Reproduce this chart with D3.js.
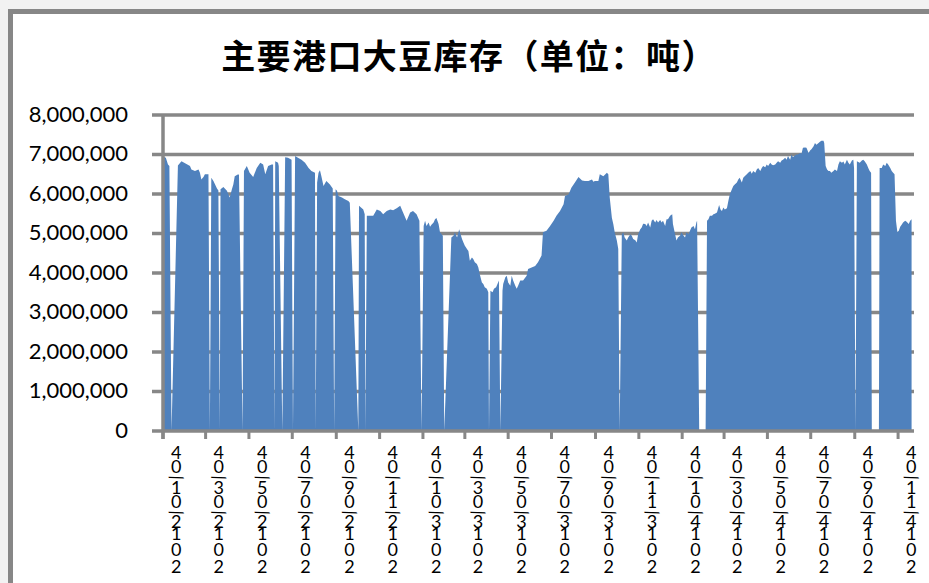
<!DOCTYPE html>
<html>
<head>
<meta charset="utf-8">
<script src="https://cdn.jsdelivr.net/npm/d3@7"></script>
<style>
  body { margin: 0; background: #f2f2f2; }
  svg { display: block; }
</style>
</head>
<body>
<script>
// port soybean stock, tons; dates are month-day inside each year
var dates2012 = ["01-04","01-08","01-11","01-13","01-16","01-25","01-30","02-06","02-11","02-13",
  "02-18","02-23","02-25","02-27","03-01","03-03","03-08","03-10","03-12","03-15",
  "03-20","03-22","03-24","03-25","03-29","04-03","04-07","04-10","04-12","04-14",
  "04-19","04-20","04-25","04-27","05-01","05-05","05-10","05-15","05-20","05-24",
  "05-27","05-31","06-05","06-07","06-09","06-10","06-14","06-15","06-20","06-24",
  "06-28","07-03","07-05","07-08","07-12","07-17","07-22","07-27","07-31","08-05",
  "08-06","08-08","08-10","08-12","08-14","08-17","08-21","08-26","08-30","09-01",
  "09-03","09-05","09-07","09-12","09-16","09-21","09-23","10-05","10-06","10-12",
  "10-14","10-15","10-17","10-26","10-31","11-05","11-09","11-14","11-19","11-23",
  "11-28","12-03","12-07","12-12","12-17","12-21","12-26","12-30"];
var stock2012 = [6950000,6920000,6750000,6710000,0,6720000,6830000,6760000,6710000,6620000,
  6580000,6620000,6540000,6370000,6430000,6500000,6500000,0,6410000,6330000,
  6140000,6090000,0,6120000,6180000,6080000,5910000,6120000,6240000,6450000,
  6500000,6480000,0,6580000,6710000,6540000,6430000,6660000,6790000,6750000,
  6500000,6710000,6750000,6750000,0,6830000,6790000,6710000,0,6930000,
  6920000,6870000,0,6960000,6920000,6870000,6790000,6660000,6580000,6540000,
  0,6290000,6540000,6600000,6450000,6200000,6330000,6240000,6140000,0,
  6120000,6080000,5950000,5910000,5870000,5820000,5780000,0,5700000,5610000,
  5490000,0,5450000,5450000,5610000,5570000,5490000,5570000,5610000,5590000,
  5640000,5700000,5530000,5320000,5530000,5570000,5490000,5320000];

var dates2013 = ["01-02","01-05","01-07","01-09","01-12","01-14","01-16","01-19","01-21","01-23",
  "01-26","01-28","02-01","02-03","02-13","02-16","02-18","02-21","02-23","02-24",
  "02-26","02-28","03-02","03-04","03-07","03-09","03-11","03-14","03-16","03-18",
  "03-21","03-23","03-25","03-28","03-30","04-01","04-04","04-06","04-07","04-09",
  "04-12","04-14","04-17","04-21","04-23","04-26","04-27","04-30","05-02","05-04",
  "05-07","05-09","05-11","05-14","05-16","05-18","05-21","05-25","05-30","06-01",
  "06-06","06-11","06-15","06-20","06-22","06-27","07-02","07-07","07-11","07-16",
  "07-21","07-23","07-28","08-01","08-06","08-11","08-16","08-20","08-25","08-30",
  "09-01","09-03","09-08","09-10","09-15","09-20","09-22","09-24","09-27","09-29",
  "10-01","10-04","10-06","10-08","10-11","10-13","10-15","10-18","10-20","10-23",
  "10-25","10-27","10-30","11-01","11-03","11-06","11-08","11-10","11-13","11-15",
  "11-17","11-20","11-22","11-24","11-27","11-29","12-01","12-04","12-06","12-08",
  "12-11","12-13","12-15","12-18","12-21","12-22","12-25","12-27","12-29"];
var stock2013 = [0,5190000,5320000,5190000,5280000,5170000,5220000,5280000,5360000,5390000,
  5240000,5030000,4940000,0,4900000,4940000,5030000,4900000,5030000,5110000,
  4980000,4860000,4770000,4690000,4610000,4560000,4310000,4390000,4350000,4270000,
  4230000,4140000,3970000,3760000,3720000,3640000,3600000,3510000,0,3550000,
  3510000,3600000,3640000,3810000,0,3550000,3720000,3890000,3930000,3760000,
  3680000,3930000,3810000,3680000,3600000,3680000,3810000,3810000,3930000,4100000,
  4140000,4180000,4270000,4440000,5030000,5070000,5190000,5320000,5450000,5570000,
  5740000,5950000,5990000,6160000,6290000,6430000,6340000,6330000,6330000,6370000,
  6310000,6330000,6330000,6500000,6450000,6540000,6500000,5910000,5400000,5240000,
  5030000,4820000,4610000,0,4980000,5030000,4900000,4820000,4900000,4980000,
  4940000,4860000,4830000,4770000,4980000,5110000,5150000,5250000,5240000,5190000,
  5280000,5150000,5320000,5360000,5280000,5340000,5280000,5340000,5280000,5320000,
  5190000,5360000,5360000,5450000,5490000,5240000,4980000,4820000,4900000];

var dates2014 = ["01-01","01-03","01-06","01-08","01-10","01-13","01-15","01-17","01-20","01-22",
  "01-24","01-25","01-28","02-06","02-08","02-10","02-12","02-15","02-17","02-19",
  "02-22","02-24","02-25","02-27","03-01","03-03","03-05","03-08","03-10","03-12",
  "03-15","03-17","03-19","03-22","03-24","03-26","03-29","03-31","04-02","04-05",
  "04-07","04-10","04-12","04-14","04-17","04-19","04-21","04-24","04-26","04-28",
  "05-01","05-03","05-05","05-08","05-10","05-12","05-15","05-17","05-19","05-22",
  "05-24","05-26","05-29","05-31","06-02","06-05","06-07","06-09","06-12","06-14",
  "06-16","06-19","06-21","06-23","06-26","06-28","07-01","07-03","07-05","07-08",
  "07-10","07-12","07-15","07-17","07-19","07-22","07-23","07-24","07-25","07-27",
  "07-29","07-31","08-02","08-05","08-07","08-10","08-12","08-14","08-17","08-19",
  "08-21","08-24","08-26","08-28","08-31","09-02","09-03","09-05","09-07","09-11",
  "09-14","09-16","09-18","09-21","09-23","09-25","09-27","09-28","10-08","10-09",
  "10-12","10-14","10-17","10-19","10-21","10-24","10-26","10-28","10-30","10-31",
  "11-01","11-03","11-05","11-07","11-09","11-11","11-14","11-16","11-19","11-21",
  "11-23"];
var stock2014 = [4940000,5030000,4940000,4900000,5030000,4980000,5070000,5150000,5190000,5110000,
  5280000,5320000,0,0,5320000,5360000,5450000,5450000,5490000,5500000,
  5530000,5660000,5720000,5610000,5570000,5660000,5610000,5640000,5820000,5990000,
  6120000,6200000,6240000,6290000,6370000,6410000,6290000,6410000,6450000,6500000,
  6540000,6580000,6510000,6580000,6540000,6620000,6660000,6580000,6660000,6710000,
  6680000,6750000,6710000,6790000,6750000,6730000,6750000,6790000,6830000,6790000,
  6850000,6870000,6920000,6870000,6960000,6870000,7000000,6930000,6980000,7000000,
  7000000,7040000,7020000,7170000,7180000,7170000,7040000,7100000,7130000,7210000,
  7290000,7250000,7290000,7320000,7350000,7350000,7290000,7000000,6710000,6620000,
  6580000,6580000,6540000,6580000,6620000,6580000,6750000,6830000,6790000,6820000,
  6750000,6870000,6790000,6750000,6850000,6870000,6660000,0,6830000,6790000,
  6850000,6870000,6830000,6750000,6660000,6580000,6540000,0,0,6660000,
  6660000,6750000,6710000,6790000,6750000,6660000,6580000,6540000,6500000,5910000,
  5320000,5030000,5070000,5170000,5220000,5280000,5320000,5300000,5240000,5320000,
  5360000];

var tickLabels = ["2012/01/04","2012/03/04","2012/05/04","2012/07/04","2012/09/04","2012/11/04",
  "2013/01/04","2013/03/04","2013/05/04","2013/07/04","2013/09/04","2013/11/04",
  "2014/01/04","2014/03/04","2014/05/04","2014/07/04","2014/09/04","2014/11/04"];
var yTicks = [0,1000000,2000000,3000000,4000000,5000000,6000000,7000000,8000000];
var xDomain = ["2012/01/04","2014/11/25"];
var title = "主要港口大豆库存（单位：吨）";

var margin = {top: 115, right: 16, bottom: 152, left: 163},
    width = 929 - margin.left - margin.right,
    height = 583 - margin.top - margin.bottom;

var parseDay = d3.utcParse("%Y-%m-%d"),
    parseTick = d3.utcParse("%Y/%m/%d");

var data = [];
[[2012, dates2012, stock2012], [2013, dates2013, stock2013], [2014, dates2014, stock2014]]
  .forEach(function(s) {
    s[1].forEach(function(md, i) {
      data.push({date: parseDay(s[0] + "-" + md), value: s[2][i]});
    });
  });

var svg0 = d3.select("body").append("svg")
    .attr("width", 929)
    .attr("height", 583);

// chart frame, runs off the right and bottom edge
svg0.append("rect")
    .attr("x", 10.5).attr("y", 11.5)
    .attr("width", 960).attr("height", 620)
    .attr("fill", "#fff")
    .attr("stroke", "#878787")
    .attr("stroke-width", 5);

svg0.append("text")
    .attr("x", 469)
    .attr("y", 69)
    .attr("text-anchor", "middle")
    .attr("font-family", "'Noto Sans CJK SC', sans-serif")
    .attr("font-weight", "bold")
    .attr("font-size", "34px")
    .attr("letter-spacing", "1.4px")
    .attr("fill", "#000")
    .text(title);

var svg = svg0.append("g")
    .attr("transform", "translate(" + margin.left + "," + margin.top + ")");

var x = d3.scaleUtc()
    .domain(xDomain.map(parseTick))
    .range([0, width]);

var y = d3.scaleLinear()
    .domain([0, 8000000])
    .range([height, 0]);

var grey = "#878787";

// gridlines behind the area
svg.append("g")
    .selectAll("line")
    .data(yTicks.slice(1))
    .enter().append("line")
    .attr("x1", -11)
    .attr("x2", width + 1)
    .attr("y1", d => y(d))
    .attr("y2", d => y(d))
    .attr("stroke", grey)
    .attr("stroke-width", 3.5);

var area = d3.area()
    .x(d => x(d.date))
    .y0(y(0))
    .y1(d => y(d.value));

svg.append("path")
    .datum(data)
    .attr("fill", "#4f81bd")
    .attr("d", area);

// y axis
svg.append("line")
    .attr("x1", 0).attr("x2", 0)
    .attr("y1", 0).attr("y2", height + 8)
    .attr("stroke", grey)
    .attr("stroke-width", 3.5);

svg.append("g")
    .selectAll("text")
    .data(yTicks)
    .enter().append("text")
    .attr("x", -35)
    .attr("y", d => y(d))
    .attr("dy", "0.3em")
    .attr("text-anchor", "end")
    .attr("font-family", "Lato, sans-serif")
    .attr("font-size", "22px")
    .attr("fill", "#000")
    .text(d => d3.format(",")(d));

// x axis
svg.append("line")
    .attr("x1", -11).attr("x2", width + 1)
    .attr("y1", height).attr("y2", height)
    .attr("stroke", grey)
    .attr("stroke-width", 3.5);

svg.append("g")
    .selectAll("line")
    .data(tickLabels)
    .enter().append("line")
    .attr("x1", d => x(parseTick(d)))
    .attr("x2", d => x(parseTick(d)))
    .attr("y1", height)
    .attr("y2", height + 8)
    .attr("stroke", grey)
    .attr("stroke-width", 3);

// rotated labels with upright glyphs; the slash ends up lying flat
var glyphX = "0 17 33 45 62 65 79 97 100 114",
    glyphY = "0 0 0 0 -2 0 0 -2 0 0",
    glyphRot = "90 90 90 90 160 90 90 160 90 90";

svg.append("g")
    .attr("font-family", "Lato, sans-serif")
    .attr("font-size", "18px")
    .attr("fill", "#000")
    .selectAll("text")
    .data(tickLabels)
    .enter().append("text")
    .attr("transform", d => "translate(" + (x(parseTick(d)) + 8) + "," + (height + 142) + ") rotate(-90)")
    .attr("x", glyphX)
    .attr("y", glyphY)
    .attr("rotate", glyphRot)
    .text(d => d);
</script>
</body>
</html>
